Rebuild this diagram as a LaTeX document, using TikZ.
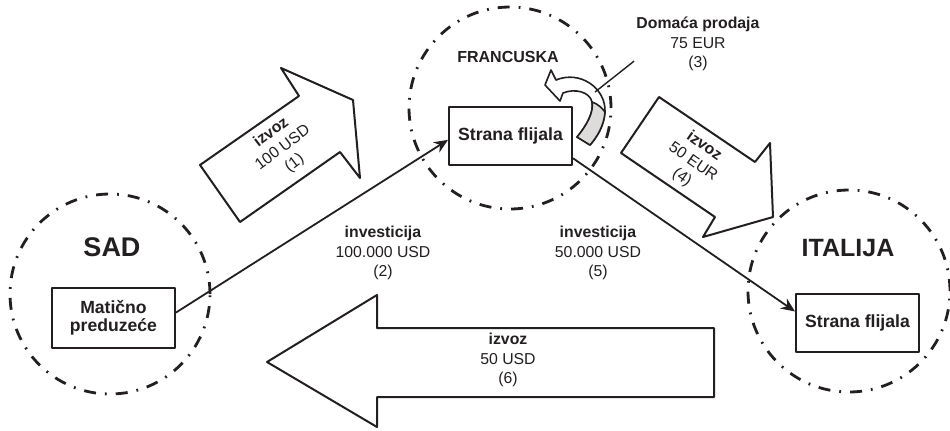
\documentclass[tikz,border=0pt]{standalone}
\usepackage{fontspec}
\setmainfont{Liberation Sans}
\usetikzlibrary{arrows.meta}
\definecolor{ink}{HTML}{231F20}
\definecolor{shade}{HTML}{DEDCDA}

\begin{document}
\begin{tikzpicture}[x=0.5pt,y=-0.5pt,line join=round,
	country/.style={draw=ink,line width=1.4pt,dash pattern=on 6pt off 4.5pt on 0.9pt off 4.5pt},
	firm/.style={draw=ink,line width=1pt,fill=white,text=ink,minimum width=61.5pt,minimum height=29pt,inner sep=1pt,align=center,font=\bfseries\fontsize{8.8}{9}\selectfont},
	lbl/.style={align=center,text=ink,inner sep=1pt,font=\fontsize{7.9}{9.6}\selectfont},
	title/.style={text=ink,inner sep=1pt,font=\bfseries\fontsize{#1}{#1}\selectfont},
	bigarrow/.style={draw=ink,line width=1pt,fill=white},
	flow/.style={draw=ink,line width=0.9pt,-{Stealth[length=7pt,width=6pt]}}]
		\useasboundingbox (0,0) rectangle (950,430);
		\draw[country] (110,294) circle [radius=50pt];
		\draw[country] (510,108) circle [radius=50.5pt];
		\draw[country] (849,291) circle [radius=50.5pt];
		
		\node[title=13.5] (sad) at (112,247) {SAD};
		\node[title=8] (fra) at (508,57) {FRANCUSKA};
		\node[title=12.5] (ita) at (848,248) {ITALIJA};
		
		\node[firm,minimum height=30pt] (mat) at (113.5,318) {Matično\\preduzeće};
		\node[firm] (fr) at (510.5,135.5) {Strana flijala};
		\node[firm] (it) at (857.5,322.5) {Strana flijala};
		
		\draw[flow] (mat.5) -- (fr.184);
		\draw[flow] (fr.-20) -- (it.170);
		
		\draw[bigarrow] (200,165) -- (299,96) -- (281,68) -- (353,100) -- (360,178) -- (340,152) -- (240,222) -- cycle;
		\node[lbl,rotate=37] (exp1) at (283,148) {\textbf{izvoz}\\100 USD\\(1)};
		\draw[bigarrow] (659,97) -- (755,162) -- (770,143) -- (773,217) -- (703,237) -- (715,217) -- (621,153) -- cycle;
		\node[lbl,rotate=-35] (exp4) at (693,162) {\textbf{izvoz}\\50 EUR\\(4)};
		\draw[bigarrow] (267,362) -- (377,295) -- (377,328) -- (714,328) -- (714,397) -- (377,397) -- (377,427) -- cycle;
		\node[lbl] (exp6) at (508,360) {\textbf{izvoz}\\50 USD\\(6)};
		
		\node[lbl] (inv1) at (383,253) {\textbf{investicija}\\100.000 USD\\(2)};
		\node[lbl] (inv2) at (598,253) {\textbf{investicija}\\50.000 USD\\(5)};
		\node[lbl] (dom) at (698,44) {\textbf{Domaća prodaja}\\75 EUR\\(3)};
		
		\draw[draw=ink,line width=0.8pt,fill=white] (556,80) .. controls (580,70) and (606,88) .. (605,112)
			.. controls (604,126) and (597,137) .. (590,145) -- (577,137)
			.. controls (587,125) and (594,112) .. (592,102) .. controls (590,92) and (575,88) .. (563,93)
			-- (560,101) -- (545,85) -- (551,70) -- cycle;
		\draw[draw=ink,line width=0.8pt,fill=shade] (605,112) .. controls (604,126) and (597,137) .. (590,145)
			-- (577,137) .. controls (587,125) and (594,112) .. (592,102) .. controls (598,104) and (602,108) .. (605,112);
		\coordinate (ptr) at (595,92);
		\draw[draw=ink,line width=0.7pt] (dom.195) -- (ptr);
\end{tikzpicture}
\end{document}
